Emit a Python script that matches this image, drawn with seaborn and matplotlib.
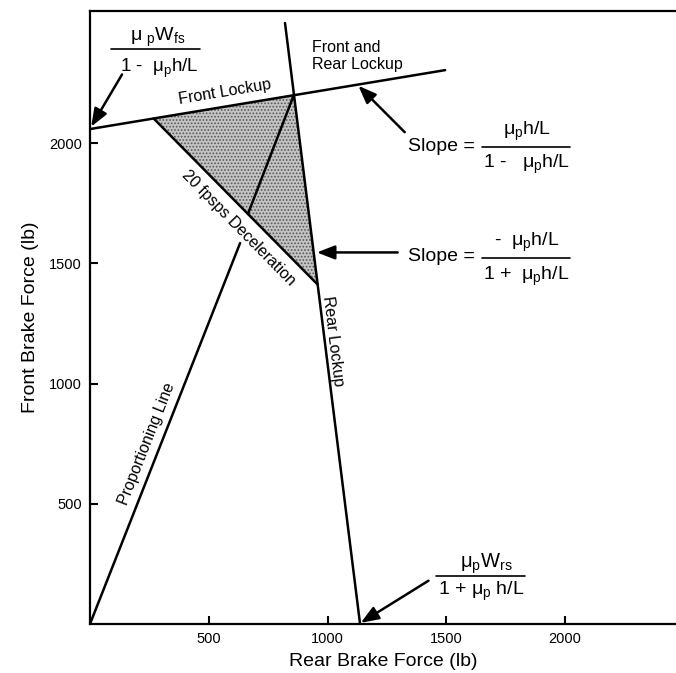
import matplotlib
matplotlib.use("Agg")
import matplotlib.pyplot as plt
import seaborn as sns
import pandas as pd

# line end points (lb)
front_lockup_x = [0, 1495]
front_lockup_y = [2058, 2303]
rear_lockup_x = [821, 1137]
rear_lockup_y = [2499, 0]
decel_x = [268, 958]
decel_y = [2102, 1412]
prop_low_x = [0, 632]
prop_low_y = [0, 1584]
prop_high_x = [665, 858]
prop_high_y = [1705, 2199]
zone_x = [268, 858, 958]
zone_y = [2102, 2199, 1412]

x_ticks = [500, 1000, 1500, 2000]
y_ticks = [500, 1000, 1500, 2000]

sns.set_theme(style="ticks")
plt.rcParams["font.family"] = ["Liberation Sans", "DejaVu Sans"]
plt.rcParams["text.color"] = "black"
plt.rcParams["axes.labelcolor"] = "black"
plt.rcParams["mathtext.fontset"] = "custom"
plt.rcParams["mathtext.rm"] = "Liberation Sans"
plt.rcParams["mathtext.it"] = "Liberation Sans"
plt.rcParams["mathtext.default"] = "regular"
plt.rcParams["hatch.color"] = "#555555"
plt.rcParams["hatch.linewidth"] = 0.8

fig = plt.figure(figsize=(6.76, 6.73), dpi=100)
ax = fig.add_axes([0.1331, 0.0728, 0.8669, 0.9109])

segments = [
    ("front", front_lockup_x, front_lockup_y),
    ("rear", rear_lockup_x, rear_lockup_y),
    ("decel", decel_x, decel_y),
    ("prop1", prop_low_x, prop_low_y),
    ("prop2", prop_high_x, prop_high_y),
]
frames = []
for name, xs, ys in segments:
    frames.append(pd.DataFrame({"rear": xs, "front": ys, "line": name}))
df = pd.concat(frames)

# shaded region between the three lines
ax.fill(zone_x, zone_y, facecolor="#c4c4c4", edgecolor="#555555", lw=0, hatch=".....", zorder=1)
sns.lineplot(data=df, x="rear", y="front", units="line", estimator=None, sort=False,
             color="black", lw=1.8, ax=ax, zorder=3)

ax.set_xlim(0, 2467)
ax.set_ylim(0, 2549)
ax.set_xticks(x_ticks)
ax.set_yticks(y_ticks)
ax.tick_params(direction="in", length=6, width=1.5, labelsize=10.5, colors="black", pad=6)
ax.spines["right"].set_visible(False)
for s in ["left", "bottom", "top"]:
    ax.spines[s].set_linewidth(1.6)
    ax.spines[s].set_color("black")
ax.set_xlabel("Rear Brake Force (lb)", fontsize=14, labelpad=5)
ax.set_ylabel("Front Brake Force (lb)", fontsize=14, labelpad=7)

# line labels
lab = 11.5
ax.text(568, 2214, "Front Lockup", rotation=9.4, fontsize=lab, ha="center", va="center")
ax.text(935, 2362, "Front and\nRear Lockup", fontsize=lab, ha="left", va="center", linespacing=1.15)
ax.text(625, 1645, "20 fpsps Deceleration", rotation=-45.5, fontsize=lab, ha="center", va="center")
ax.text(1025, 1175, "Rear Lockup", rotation=-83, fontsize=lab, ha="center", va="center")
ax.text(240, 748, "Proportioning Line", rotation=68.5, fontsize=lab, ha="center", va="center")

arrow = dict(arrowstyle="-|>,head_length=0.9,head_width=0.35", color="black", lw=1.8,
             shrinkA=0, shrinkB=0)

# upper-left intercept
ax.text(285, 2440, r"$\mu\ _{p}W_{fs}$", fontsize=14, ha="center", va="center")
ax.plot([90, 465], [2390, 2390], color="black", lw=1.2, clip_on=False)
ax.text(290, 2310, r"1 -  $\mu_{p}$h/L", fontsize=13.5, ha="center", va="center")
ax.annotate("", xy=(5, 2068), xytext=(135, 2285), arrowprops=arrow)

# front lockup slope
ax.text(1340, 1985, "Slope =", fontsize=14, ha="left", va="center")
ax.plot([1651, 2021], [1983, 1983], color="black", lw=1.2)
ax.text(1840, 2050, r"$\mu_{p}$h/L", fontsize=14, ha="center", va="center")
ax.text(1836, 1910, r"1 -   $\mu_{p}$h/L", fontsize=14, ha="center", va="center")
ax.annotate("", xy=(1130, 2238), xytext=(1325, 2045), arrowprops=arrow)

# rear lockup slope
ax.text(1340, 1530, "Slope =", fontsize=14, ha="left", va="center")
ax.plot([1651, 2021], [1520, 1520], color="black", lw=1.2)
ax.text(1840, 1585, r"-  $\mu_{p}$h/L", fontsize=14, ha="center", va="center")
ax.text(1836, 1445, r"1 +  $\mu_{p}$h/L", fontsize=14, ha="center", va="center")
ax.annotate("", xy=(955, 1545), xytext=(1295, 1545), arrowprops=arrow)

# lower-right intercept
ax.text(1670, 250, r"$\mu_{p}W_{rs}$", fontsize=14.5, ha="center", va="center")
ax.plot([1456, 1831], [200, 200], color="black", lw=1.2)
ax.text(1645, 137, r"1 + $\mu_{p}$ h/L", fontsize=14, ha="center", va="center")
ax.annotate("", xy=(1140, 5), xytext=(1425, 180), arrowprops=arrow)

fig.savefig("out.png", dpi=100)
